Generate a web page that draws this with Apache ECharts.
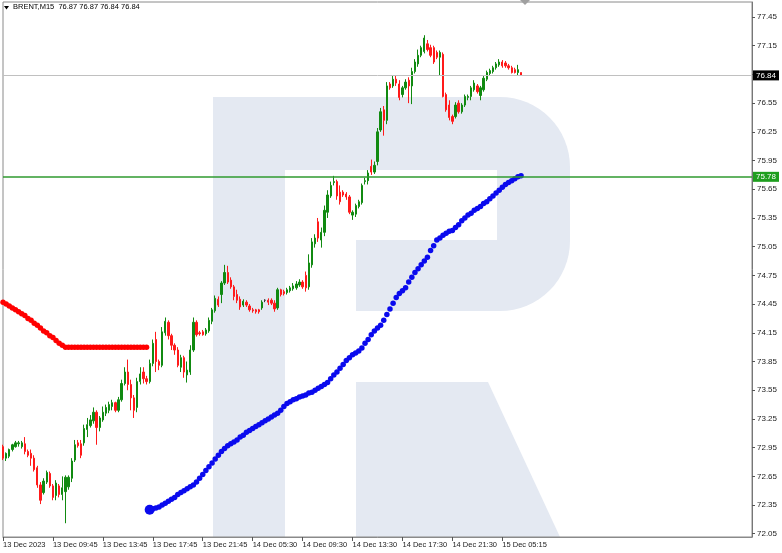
<!DOCTYPE html>
<html><head><meta charset="utf-8">
<script src="https://cdn.jsdelivr.net/npm/echarts@6/dist/echarts.min.js"></script>
<style>html,body{margin:0;padding:0;background:#fff}#c{width:782px;height:553px}</style>
</head><body><div id="c"></div>
<script>
const tickLabels = ["13 Dec 2023","13 Dec 09:45","13 Dec 13:45","13 Dec 17:45","13 Dec 21:45","14 Dec 05:30","14 Dec 09:30","14 Dec 13:30","14 Dec 17:30","14 Dec 21:30","15 Dec 05:15"];
const barsPerLabel = 16;
const slotCount = 241;
const yTicks = [72.05,72.35,72.65,72.95,73.25,73.55,73.85,74.15,74.45,74.75,75.05,75.35,75.65,75.95,76.25,76.55,76.85,77.15,77.45];
const bidPrice = 76.84;
const levelPrice = 75.78;
const titleText = "BRENT,M15  76.87 76.87 76.84 76.84";

const opens = [
72.96,72.84,72.86,72.93,72.96,72.99,72.96,72.99,72.91,72.89,
72.84,72.74,72.56,72.48,72.59,72.68,72.55,72.45,72.55,72.46,
72.49,72.54,72.63,72.82,73.00,72.99,73.00,73.14,73.18,73.23,
73.32,73.16,73.24,73.31,73.34,73.38,73.42,73.34,73.45,73.62,
73.74,73.61,73.47,73.37,73.64,73.74,73.67,73.64,73.83,74.08,
73.85,73.81,74.15,74.26,74.12,74.02,73.97,73.79,73.89,73.71,
73.74,73.97,74.26,74.15,74.16,74.14,74.17,74.27,74.38,74.50,
74.55,74.67,74.78,74.70,74.63,74.55,74.50,74.44,74.47,74.43,
74.39,74.39,74.39,74.41,74.49,74.49,74.49,74.46,74.41,74.60,
74.58,74.57,74.59,74.61,74.62,74.65,74.68,74.75,74.63,74.86,
75.08,75.31,75.12,75.20,75.41,75.58,75.72,75.73,75.62,75.62,
75.60,75.57,75.38,75.39,75.47,75.51,75.73,75.74,75.89,75.83,
75.94,76.27,76.48,76.37,76.75,76.73,76.80,76.75,76.64,76.71,
76.79,76.73,76.88,76.96,77.05,77.09,77.17,77.13,77.13,77.08,
77.03,77.06,76.64,76.53,76.41,76.41,76.55,76.46,76.53,76.61,
76.62,76.69,76.73,76.63,76.69,76.80,76.86,76.88,76.92,76.95,
76.98,76.97,76.94,76.92,76.90,76.87,76.87];
const closes = [
72.84,72.89,72.93,72.98,73.00,73.00,73.00,72.91,72.87,72.84,
72.72,72.56,72.40,72.60,72.69,72.55,72.43,72.58,72.46,72.53,
72.64,72.64,72.81,72.98,72.97,72.87,73.15,73.19,73.24,73.32,
73.16,73.26,73.32,73.37,73.40,73.42,73.34,73.45,73.62,73.74,
73.61,73.47,73.34,73.64,73.72,73.67,73.64,73.83,74.04,73.85,
73.81,74.16,74.27,74.12,74.02,73.97,73.81,73.89,73.74,73.76,
73.97,74.26,74.13,74.14,74.13,74.18,74.28,74.39,74.51,74.44,
74.67,74.78,74.68,74.63,74.53,74.49,74.42,74.48,74.44,74.39,
74.38,74.37,74.37,74.47,74.49,74.47,74.46,74.40,74.60,74.55,
74.56,74.60,74.62,74.64,74.66,74.68,74.63,74.62,74.88,75.10,
75.14,75.14,75.20,75.43,75.59,75.69,75.73,75.58,75.52,75.59,
75.57,75.41,75.41,75.48,75.52,75.69,75.74,75.82,75.83,75.90,
76.25,76.46,76.37,76.73,76.71,76.80,76.76,76.61,76.71,76.77,
76.73,76.88,76.98,77.05,77.13,77.23,77.11,77.05,76.98,77.03,
77.08,76.62,76.48,76.40,76.36,76.53,76.46,76.53,76.62,76.62,
76.71,76.76,76.67,76.71,76.81,76.87,76.89,76.92,76.96,76.98,
76.94,76.94,76.92,76.87,76.87,76.90,76.84];
const lows = [
72.82,72.81,72.84,72.91,72.95,72.96,72.94,72.88,72.85,72.76,
72.70,72.53,72.36,72.46,72.57,72.53,72.40,72.40,72.43,72.40,
72.16,72.51,72.59,72.80,72.95,72.84,72.97,73.06,73.16,73.20,
72.98,73.12,73.22,73.28,73.31,73.34,73.32,73.32,73.43,73.60,
73.55,73.34,73.26,73.32,73.61,73.62,73.61,73.62,73.80,73.74,
73.76,73.79,74.12,74.08,73.97,73.92,73.79,73.74,73.68,73.63,
73.71,73.95,74.11,74.12,74.12,74.12,74.15,74.24,74.36,74.42,
74.46,74.65,74.66,74.61,74.49,74.46,74.39,74.42,74.42,74.37,
74.36,74.35,74.35,74.39,74.47,74.44,74.44,74.37,74.39,74.53,
74.54,74.55,74.57,74.59,74.60,74.63,74.61,74.58,74.60,74.83,
75.04,75.10,75.04,75.16,75.35,75.56,75.69,75.54,75.49,75.57,
75.54,75.39,75.33,75.36,75.45,75.49,75.70,75.70,75.80,75.81,
75.90,76.25,76.21,76.33,76.69,76.71,76.73,76.58,76.61,76.69,
76.55,76.54,76.86,76.93,77.03,77.07,77.09,77.03,76.96,77.01,
76.84,76.61,76.46,76.37,76.33,76.39,76.44,76.44,76.51,76.58,
76.58,76.67,76.65,76.58,76.67,76.78,76.84,76.86,76.90,76.93,
76.92,76.92,76.90,76.86,76.86,76.84,76.84];
const highs = [
72.98,72.90,72.94,72.99,73.02,73.02,73.02,73.06,72.93,72.93,
72.87,72.76,72.59,72.63,72.71,72.70,72.57,72.61,72.57,72.65,
72.66,72.66,72.84,73.03,73.03,73.03,73.19,73.26,73.29,73.37,
73.34,73.28,73.38,73.40,73.43,73.45,73.43,73.48,73.66,73.79,
73.87,73.66,73.50,73.68,73.79,73.79,73.70,73.87,74.08,74.16,
73.87,74.21,74.31,74.28,74.14,74.04,74.00,73.92,73.91,73.85,
74.02,74.31,74.28,74.17,74.18,74.20,74.31,74.41,74.54,74.53,
74.69,74.86,74.85,74.73,74.65,74.60,74.53,74.50,74.49,74.45,
74.41,74.40,74.40,74.49,74.50,74.51,74.51,74.49,74.62,74.61,
74.60,74.62,74.64,74.67,74.69,74.71,74.70,74.79,74.97,75.14,
75.18,75.35,75.25,75.48,75.64,75.73,75.79,75.75,75.69,75.64,
75.62,75.59,75.43,75.50,75.54,75.71,75.77,75.85,75.96,75.94,
76.29,76.50,76.52,76.77,76.77,76.84,76.84,76.79,76.73,76.80,
76.82,76.92,77.01,77.11,77.15,77.26,77.21,77.16,77.15,77.10,
77.10,77.08,76.66,76.58,76.43,76.56,76.58,76.55,76.64,76.64,
76.73,76.79,76.75,76.73,76.84,76.89,76.91,76.94,76.98,77.01,
77.00,76.99,76.96,76.94,76.92,76.95,76.87];

const redStart = 0;
const redDots = [
74.47,74.45,74.43,74.41,74.39,74.37,74.35,74.33,74.30,74.28,
74.25,74.23,74.20,74.17,74.15,74.12,74.10,74.07,74.04,74.02,
74.00,74.00,74.00,74.00,74.00,74.00,74.00,74.00,74.00,74.00,
74.00,74.00,74.00,74.00,74.00,74.00,74.00,74.00,74.00,74.00,
74.00,74.00,74.00,74.00,74.00,74.00,74.00];
const blueStart = 47;
const blueDots = [
72.30,72.31,72.32,72.33,72.35,72.37,72.39,72.41,72.43,72.46,
72.48,72.50,72.52,72.54,72.56,72.59,72.63,72.67,72.71,72.75,
72.79,72.83,72.87,72.91,72.94,72.97,72.99,73.01,73.03,73.06,
73.08,73.11,73.13,73.15,73.17,73.19,73.21,73.23,73.25,73.27,
73.29,73.31,73.34,73.38,73.41,73.43,73.45,73.46,73.48,73.49,
73.50,73.52,73.53,73.55,73.57,73.59,73.61,73.63,73.67,73.71,
73.74,73.78,73.82,73.86,73.89,73.92,73.94,73.96,73.99,74.04,
74.08,74.13,74.17,74.20,74.23,74.28,74.34,74.40,74.46,74.52,
74.56,74.59,74.62,74.68,74.73,74.78,74.82,74.86,74.90,74.94,
75.01,75.06,75.12,75.14,75.17,75.19,75.21,75.22,75.25,75.28,
75.32,75.35,75.38,75.40,75.43,75.45,75.47,75.50,75.52,75.55,
75.58,75.61,75.64,75.67,75.70,75.72,75.74,75.76,75.78,75.79];

const categories = Array.from({length: slotCount}, (_, i) => String(i));
const candleData = opens.map((o, i) => [o, closes[i], lows[i], highs[i]]);
const redData = redDots.map((v, k) => [redStart + k, v]);
const blueData = blueDots.map((v, k) => [blueStart + k, v]);
const lastLabelIdx = (tickLabels.length - 1) * barsPerLabel;
const showTick = (idx) => idx % barsPerLabel === 0 && idx <= lastLabelIdx;

const FONT = "'Liberation Sans', Arial, sans-serif";
const WM = '#e4e9f2';
const chart = echarts.init(document.getElementById('c'), null, {renderer: 'canvas'});
chart.setOption({
  animation: false,
  backgroundColor: '#ffffff',
  grid: {left: 2, right: 30, top: 2, bottom: 16, show: true, borderColor: '#8a8a8a', borderWidth: 1, backgroundColor: 'transparent'},
  graphic: [
    {type: 'rect', z: -10, silent: true, shape: {x: 213, y: 97, width: 357, height: 214, r: [0, 70, 70, 0]}, style: {fill: WM}},
    {type: 'rect', z: -9, silent: true, shape: {x: 285, y: 170, width: 212, height: 70}, style: {fill: '#ffffff'}},
    {type: 'rect', z: -9, silent: true, shape: {x: 285, y: 239, width: 71, height: 73}, style: {fill: '#ffffff'}},
    {type: 'rect', z: -10, silent: true, shape: {x: 213, y: 300, width: 72, height: 237}, style: {fill: WM}},
    {type: 'polygon', z: -10, silent: true, shape: {points: [[356,382],[488,382],[560,537],[356,537]]}, style: {fill: WM}},
    {type: 'polygon', z: 20, silent: true, shape: {points: [[4,6],[9,6],[6.5,9.5]]}, style: {fill: '#000'}},
    {type: 'text', z: 20, silent: true, left: 13, top: 3, style: {text: titleText, fontSize: 7.5, fontFamily: FONT, fill: '#000'}},
    {type: 'polygon', z: 20, silent: true, shape: {points: [[520,0],[530,0],[525,5]]}, style: {fill: '#a0a0a0'}}
  ],
  xAxis: {
    type: 'category', data: categories, boundaryGap: false,
    axisLine: {show: true, lineStyle: {color: '#8a8a8a'}},
    axisTick: {show: true, interval: showTick, length: 4, lineStyle: {color: '#555'}},
    axisLabel: {interval: showTick, align: 'left', margin: 4, fontSize: 7.5, fontFamily: FONT, color: '#222',
      formatter: (v, idx) => tickLabels[Math.round(idx / barsPerLabel)] || ''},
    splitLine: {show: false}
  },
  yAxis: {
    type: 'value', position: 'right', min: 72.016, max: 77.607, scale: true,
    axisLine: {show: true, lineStyle: {color: '#777'}},
    axisTick: {show: true, customValues: yTicks, length: 3, lineStyle: {color: '#555'}},
    axisLabel: {customValues: yTicks, margin: 5, fontSize: 8, fontFamily: FONT, color: '#222', formatter: v => v.toFixed(2)},
    splitLine: {show: false}
  },
  series: [
    {type: 'scatter', name: 'red', data: redData, symbol: 'circle', symbolSize: 5.5, z: 3,
     itemStyle: {color: '#ff0000', opacity: 1}},
    {type: 'scatter', name: 'blue', data: blueData, symbol: 'circle', z: 3,
     symbolSize: (val, p) => p.dataIndex === 0 ? 10 : 5.5,
     itemStyle: {color: '#0a0aee', opacity: 1}},
    {type: 'candlestick', name: 'BRENT', data: candleData, barWidth: 1.8, z: 4,
     itemStyle: {color: '#118a11', color0: '#ff1a1a', borderColor: '#118a11', borderColor0: '#ff1a1a', borderColorDoji: '#333', borderWidth: 1},
     markLine: {
       silent: true, symbol: ['none', 'none'], animation: false,
       data: [
         {yAxis: bidPrice, lineStyle: {color: '#c0c0c0', width: 1, type: 'solid'},
          label: {show: true, position: 'end', distance: 1, formatter: bidPrice.toFixed(2), backgroundColor: '#000', color: '#fff', padding: [1, 3, 1, 3], fontSize: 8, fontFamily: FONT}},
         {yAxis: levelPrice, lineStyle: {color: '#2f9a2f', width: 1.6, type: 'solid'},
          label: {show: true, position: 'end', distance: 1, formatter: levelPrice.toFixed(2), backgroundColor: '#1e9e1e', color: '#fff', padding: [1, 3, 1, 3], fontSize: 8, fontFamily: FONT}}
       ]
     }}
  ]
});
</script></body></html>
